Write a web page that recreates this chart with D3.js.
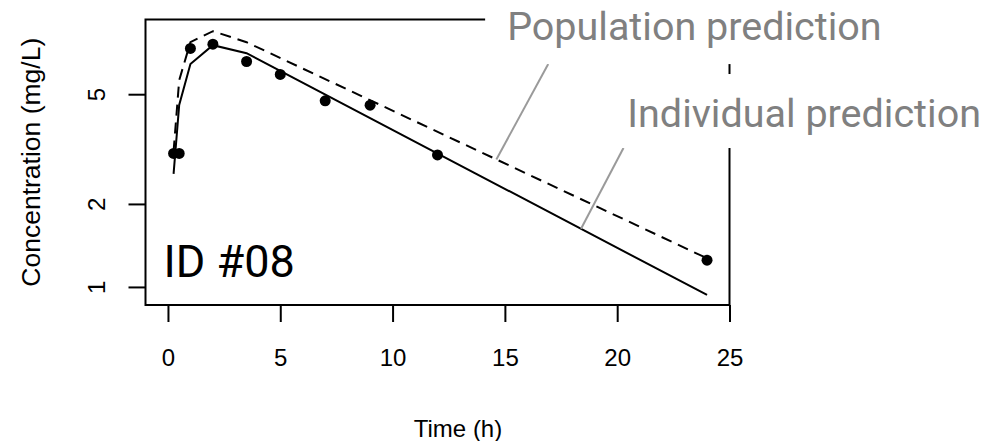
<!DOCTYPE html>
<meta charset="utf-8">
<script src="https://d3js.org/d3.v7.min.js"></script>

<style>
    body { margin: 0; background: #fff; }
    .axis text { font-family: "Liberation Sans", Arial, sans-serif; font-size: 24px; fill: #000; }
    .axis path { display: none; }
    .axis line { stroke: #000; stroke-width: 2; }
    .title { font-family: "Liberation Sans", Arial, sans-serif; font-size: 24px; fill: #000; }
    .note { font-family: Roboto, "Liberation Sans", sans-serif; font-size: 39.5px; fill: #808080; }
</style>

<div id="vis"></div>

<script>
    var width = 999
    var height = 441
    // plot region (the R-style box)
    var box = {left: 145.5, right: 729.5, top: 19.5, bottom: 305}

    // observed concentrations
    var obsTime = [0.25, 0.5, 1, 2, 3.5, 5, 7, 9, 12, 24]
    var obsConc = [3.05, 3.05, 7.33, 7.59, 6.57, 5.90, 4.73, 4.56, 3.01, 1.25]

    // model predictions
    var predTime = [0.25, 0.5, 1, 2, 3.5, 24]
    var ipredConc = [2.57, 4.57, 6.43, 7.53, 7.04, 0.935]   // individual
    var popConc = [3.10, 5.62, 7.72, 8.46, 7.72, 1.27]      // population

    var xTicks = [0, 5, 10, 15, 20, 25]
    var yTicks = [1, 2, 5]
    var subjectLabel = "ID #08"
    var xTitle = "Time (h)"
    var yTitle = "Concentration (mg/L)"

    // labels: text anchor, start of leader, time where the leader meets its curve
    var noteText = ["Population prediction", "Individual prediction"]
    var noteAt = [[15.1, 7.85], [20.45, 3.80]]
    var noteFrom = [[16.93, 6.43], [20.28, 3.19]]
    var noteTo = [14.62, 18.39]

    var svg = d3.select("#vis")
        .append("svg")
        .attr("width", width)
        .attr("height", height)

    var x = d3.scaleLinear().domain([-1, 25]).range([box.left, box.right])
    var y = d3.scaleLog().domain([0.86, 9.33]).range([box.bottom, box.top])

    // x axis
    var xAxis = svg.append("g")
        .attr("class", "axis")
        .attr("transform", "translate(0," + box.bottom + ")")
        .call(d3.axisBottom(x).tickValues(xTicks).tickSize(17).tickPadding(0).tickFormat(d3.format("d")))
    xAxis.selectAll("text").attr("y", 61).attr("dy", null)

    // y axis, labels parallel to the axis
    var yAxis = svg.append("g")
        .attr("class", "axis")
        .attr("transform", "translate(" + box.left + ",0)")
        .call(d3.axisLeft(y).tickValues(yTicks).tickSize(17).tickFormat(d3.format("d")))
    yAxis.selectAll(".tick text")
        .attr("x", null).attr("dy", null)
        .attr("text-anchor", "middle")
        .attr("transform", "translate(-41,0) rotate(-90)")

    // box
    svg.append("rect")
        .attr("x", box.left)
        .attr("y", box.top)
        .attr("width", box.right - box.left)
        .attr("height", box.bottom - box.top)
        .attr("fill", "none")
        .attr("stroke", "#000")
        .attr("stroke-width", 2)

    // axis titles
    svg.append("text")
        .attr("class", "title")
        .attr("x", 458)
        .attr("y", 437)
        .attr("text-anchor", "middle")
        .text(xTitle)

    svg.append("text")
        .attr("class", "title")
        .style("font-size", "26.5px")
        .attr("transform", "translate(40," + (box.top + box.bottom) / 2 + ") rotate(-90)")
        .attr("text-anchor", "middle")
        .text(yTitle)

    var line = d3.line()
        .x(function(d) { return x(d[0]) })
        .y(function(d) { return y(d[1]) })

    // population prediction (dashed)
    svg.append("path")
        .datum(d3.zip(predTime, popConc))
        .attr("d", line)
        .attr("fill", "none")
        .attr("stroke", "#000")
        .attr("stroke-width", 2)
        .attr("stroke-dasharray", "11,7")

    // individual prediction (solid)
    svg.append("path")
        .datum(d3.zip(predTime, ipredConc))
        .attr("d", line)
        .attr("fill", "none")
        .attr("stroke", "#000")
        .attr("stroke-width", 2)

    // observations
    svg.append("g")
        .selectAll("circle")
        .data(d3.zip(obsTime, obsConc))
        .enter()
        .append("circle")
        .attr("cx", function(d) { return x(d[0]) })
        .attr("cy", function(d) { return y(d[1]) })
        .attr("r", 5.5)
        .attr("fill", "#000")

    // subject id
    svg.append("text")
        .attr("x", box.left + 18)
        .attr("y", box.bottom - 28)
        .style("font-family", "Roboto, 'Liberation Sans', sans-serif")
        .style("font-size", "45px")
        .text(subjectLabel)

    // find the curve value at time t (straight segments on log axis)
    function curveAt(t, conc) {
        var i = d3.bisectRight(predTime, t) - 1
        i = Math.max(0, Math.min(i, predTime.length - 2))
        var f = (t - predTime[i]) / (predTime[i + 1] - predTime[i])
        return Math.exp(Math.log(conc[i]) + f * (Math.log(conc[i + 1]) - Math.log(conc[i])))
    }
    var noteCurve = [popConc, ipredConc]

    // leader lines
    noteText.forEach(function(s, i) {
        svg.append("line")
            .attr("x1", x(noteFrom[i][0]))
            .attr("y1", y(noteFrom[i][1]))
            .attr("x2", x(noteTo[i]))
            .attr("y2", y(curveAt(noteTo[i], noteCurve[i])))
            .attr("stroke", "#9a9a9a")
            .attr("stroke-width", 2)
    })

    // labels on white patches (they hide the box edge behind them)
    noteText.forEach(function(s, i) {
        var g = svg.append("g")
        var bg = g.append("rect").attr("fill", "#fff")
        var t = g.append("text")
            .attr("class", "note")
            .attr("x", x(noteAt[i][0]))
            .attr("y", y(noteAt[i][1]))
            .text(s)
        var b = t.node().getBBox()
        var bottom = y(noteFrom[i][1])
        bg.attr("x", b.x - 22)
            .attr("y", bottom - 74)
            .attr("width", b.width + 44)
            .attr("height", 74)
    })
</script>
